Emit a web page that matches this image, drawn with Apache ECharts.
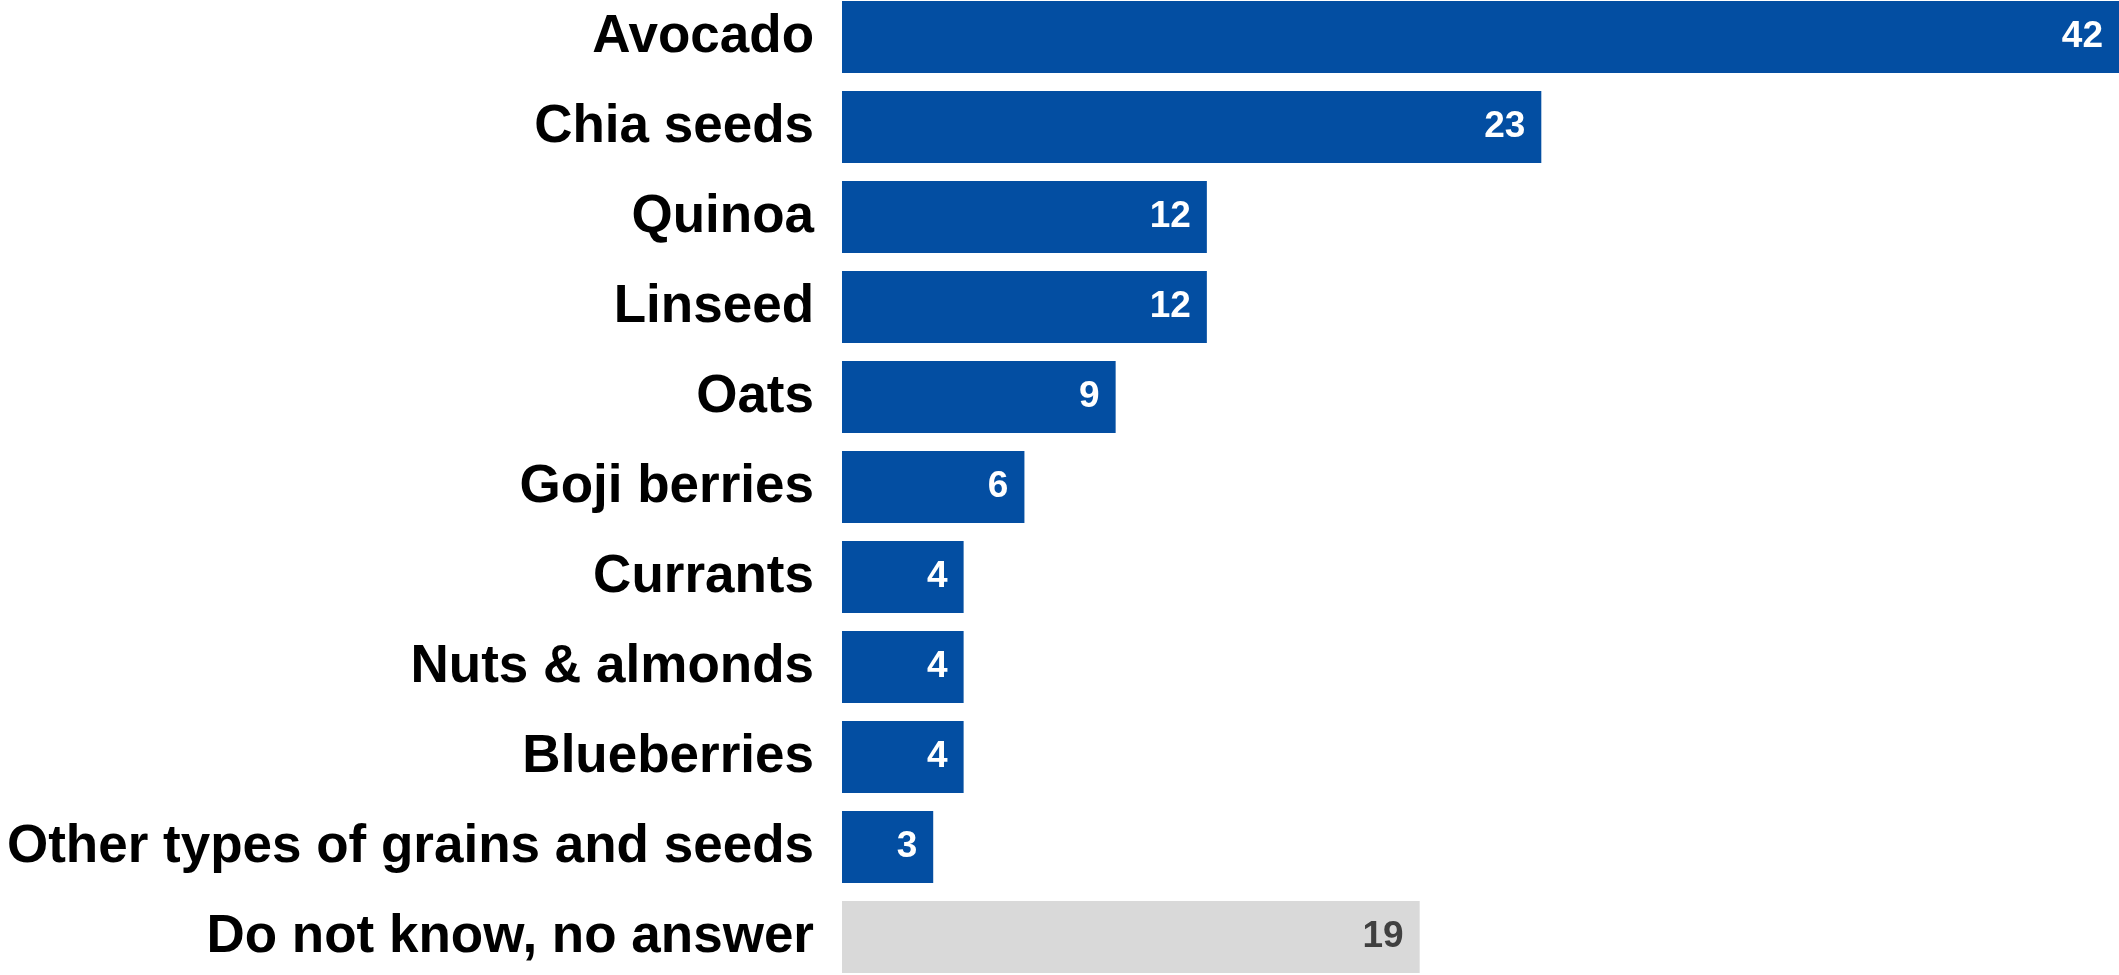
<!DOCTYPE html>
<html>
<head>
<meta charset="utf-8">
<script src="https://cdn.jsdelivr.net/npm/echarts@6/dist/echarts.min.js"></script>
<style>
  html, body { margin: 0; padding: 0; background: #ffffff; }
  #chart { width: 2119px; height: 975px; }
</style>
</head>
<body>
<div id="chart"></div>
<script>
// Foods mentioned (share of respondents), listed top to bottom
const categories = [
  'Avocado', 'Chia seeds', 'Quinoa', 'Linseed', 'Oats', 'Goji berries',
  'Currants', 'Nuts & almonds', 'Blueberries',
  'Other types of grains and seeds', 'Do not know, no answer'
];
const values = [42, 23, 12, 12, 9, 6, 4, 4, 4, 3, 19];
// The last row is the non-response group, drawn in grey
const noAnswerIndex = 10;

const BLUE = '#034ea2';
const GREY = '#d9d9d9';
const FONT = '"Liberation Sans", Arial, sans-serif';

const seriesData = values.map((v, i) => {
  const isNoAnswer = i === noAnswerIndex;
  return {
    value: v,
    itemStyle: { color: isNoAnswer ? GREY : BLUE },
    label: { color: isNoAnswer ? '#404040' : '#ffffff' }
  };
});

const chart = echarts.init(document.getElementById('chart'));
chart.setOption({
  animation: false,
  backgroundColor: '#ffffff',
  grid: {
    left: 842, right: 0, top: -8, bottom: -7,
    containLabel: false,
    outerBoundsMode: 'none'
  },
  xAxis: {
    type: 'value',
    min: 0,
    max: 42,
    show: false
  },
  yAxis: {
    type: 'category',
    data: categories,
    inverse: true,
    axisLine: { show: false },
    axisTick: { show: false },
    splitLine: { show: false },
    axisLabel: {
      margin: 28,
      color: '#000000',
      fontFamily: FONT,
      fontWeight: 'bold',
      fontSize: 53
    }
  },
  series: [{
    type: 'bar',
    data: seriesData,
    barCategoryGap: '20%',
    label: {
      show: true,
      position: 'insideRight',
      distance: 16,
      fontFamily: FONT,
      fontWeight: 'bold',
      fontSize: 37
    }
  }]
});
</script>
</body>
</html>
